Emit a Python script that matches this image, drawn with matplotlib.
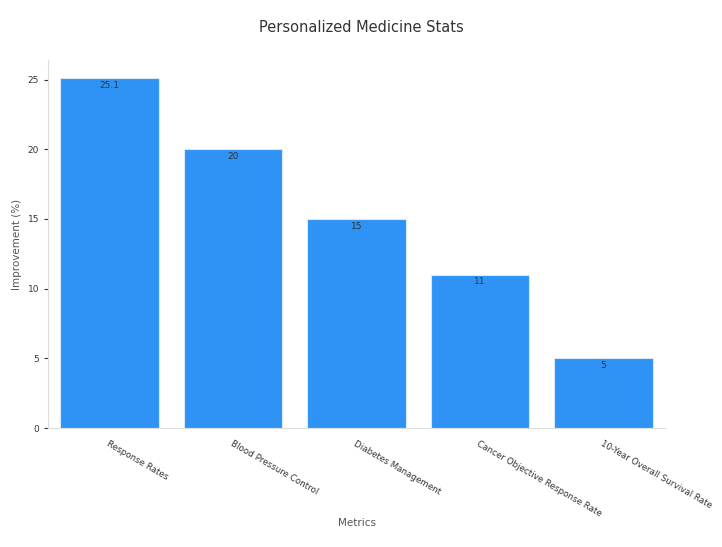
import matplotlib
matplotlib.use("Agg")
import matplotlib.pyplot as plt

categories = ["Response Rates", "Blood Pressure Control", "Diabetes Management",
              "Cancer Objective Response Rate", "10-Year Overall Survival Rate"]
values = [25.1, 20, 15, 11, 5]
value_labels = ["25.1", "20", "15", "11", "5"]

fig = plt.figure(figsize=(7.22, 5.47), dpi=100)
ax = fig.add_axes([48/722, 1-428/547, 617/722, 368/547])

bars = ax.bar(range(len(categories)), values, width=0.8, color="#2e93f5",
              edgecolor="#d9e9fb", linewidth=0.8)
for b, lab in zip(bars, value_labels):
    ax.text(b.get_x() + b.get_width()/2, b.get_height() - 0.2, lab,
            ha="center", va="top", fontsize=6.5, color="#333333")

ax.set_xlim(-0.5, 4.5)
ax.set_ylim(0, 26.4)
ax.set_yticks([0, 5, 10, 15, 20, 25])
ax.set_xticks(range(len(categories)))
ax.set_xticklabels(categories, rotation=-30, ha="left", rotation_mode="anchor",
                   fontsize=6.3, color="#333333")
ax.tick_params(axis="y", labelsize=6.5, colors="#333333", length=3)
ax.tick_params(axis="x", length=0, pad=8)
for s in ["top", "right"]:
    ax.spines[s].set_visible(False)
for s in ["left", "bottom"]:
    ax.spines[s].set_color("#dddddd")
ax.set_ylabel("Improvement (%)", fontsize=7.5, color="#555555")
fig.text(357/722, 1-523/547, "Metrics", ha="center", va="center",
         fontsize=7.5, color="#555555")
fig.text(361/722, 1-28/547, "Personalized Medicine Stats", ha="center", va="center",
         fontsize=10.5, color="#333333")

fig.savefig("out.png", dpi=100)
